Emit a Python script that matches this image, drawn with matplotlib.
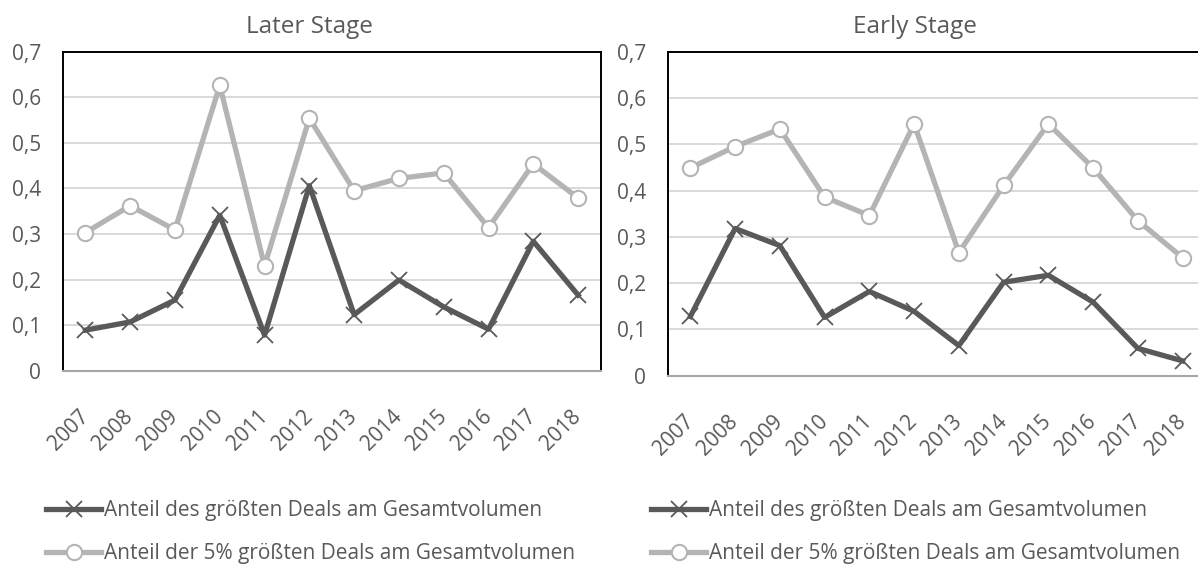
import numpy as np
import matplotlib.pyplot as plt
from matplotlib.ticker import FuncFormatter

plt.rcParams['font.family'] = ['Open Sans', 'DejaVu Sans']

years = ["2007", "2008", "2009", "2010", "2011", "2012",
         "2013", "2014", "2015", "2016", "2017", "2018"]

# Later Stage
later_top1 = [0.089, 0.107, 0.155, 0.341, 0.078, 0.406,
              0.123, 0.199, 0.140, 0.091, 0.284, 0.166]
later_top5 = [0.303, 0.362, 0.309, 0.626, 0.230, 0.554,
              0.395, 0.422, 0.434, 0.314, 0.454, 0.379]

# Early Stage
early_top1 = [0.128, 0.318, 0.281, 0.126, 0.182, 0.139,
              0.065, 0.202, 0.217, 0.159, 0.059, 0.032]
early_top5 = [0.449, 0.495, 0.533, 0.386, 0.346, 0.544,
              0.266, 0.411, 0.544, 0.449, 0.335, 0.255]

lab1 = "Anteil des größten Deals am Gesamtvolumen"
lab5 = "Anteil der 5% größten Deals am Gesamtvolumen"

dark = "#595959"
light = "#b4b4b4"
txt = "#595959"

W, H = 1198, 565
fig = plt.figure(figsize=(W / 100, H / 100), dpi=100)

ax1 = fig.add_axes([63 / W, 1 - 370.7 / H, (600.5 - 63) / W, (370.7 - 51.7) / H])
ax2 = fig.add_axes([668 / W, 1 - 375.7 / H, (1205 - 668) / W, (375.7 - 51.7) / H])

fmt = FuncFormatter(lambda v, p: "0" if abs(v) < 1e-9 else f"{v:.1f}".replace(".", ","))

for ax, s1, s5, title, tx, lx in [
        (ax1, later_top1, later_top5, "Later Stage", 309, 46),
        (ax2, early_top1, early_top5, "Early Stage", 914.5, 651)]:
    x = np.arange(len(years))
    ax.plot(x, s1, color=dark, lw=3.8, marker="x", ms=11, mew=1.3,
            mec=dark, label=lab1, zorder=3)
    ax.plot(x, s5, color=light, lw=3.8, marker="o", ms=11, mew=1.5,
            mfc="white", mec=light, label=lab5, zorder=3)
    ax.set_xlim(-0.5, len(years) - 0.5)
    ax.set_ylim(0, 0.7)
    ax.set_yticks(np.arange(0, 0.71, 0.1))
    ax.yaxis.set_major_formatter(fmt)
    ax.set_xticks(x)
    ax.set_xticklabels(years, rotation=45, ha="right", va="center",
                       rotation_mode="anchor")
    ax.grid(axis="y", color="#d9d9d9", lw=1.4)
    ax.set_axisbelow(True)
    ax.tick_params(length=0, labelsize=15, colors=txt)
    ax.tick_params(axis="y", pad=16)
    ax.tick_params(axis="x", pad=31)
    for sp in ["left", "top", "right"]:
        ax.spines[sp].set_color("black")
        ax.spines[sp].set_linewidth(1.4)
    ax.spines["bottom"].set_color("#a6a6a6")
    ax.spines["bottom"].set_linewidth(1.5)
    fig.text(tx / W, 1 - 27 / H, title, ha="center", va="center",
             fontsize=17.5, color=txt)
    leg = ax.legend(loc="upper left", bbox_to_anchor=(lx / W, 1 - 500 / H),
                    bbox_transform=fig.transFigure, frameon=False,
                    fontsize=15, handlelength=2.65, handletextpad=0.15,
                    labelspacing=1.05, borderpad=0, borderaxespad=0)
    for t in leg.get_texts():
        t.set_color(txt)

fig.savefig("out.png", dpi=100)
